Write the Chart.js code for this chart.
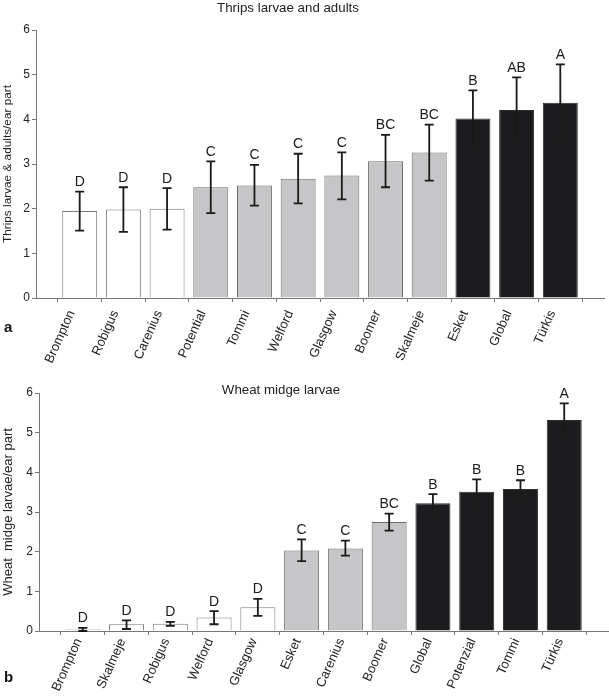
<!DOCTYPE html>
<html>
<head>
<meta charset="utf-8">
<script src="https://cdn.jsdelivr.net/npm/chart.js@4.4.1/dist/chart.umd.min.js"></script>
<style>
  body { margin: 0; background: #fff; font-family: "Liberation Sans", Arial, sans-serif; }
  #page { position: relative; width: 609px; height: 698px; overflow: hidden; }
  .chart-box { position: absolute; left: 0; width: 609px; }
  .title { position: absolute; font-size: 13.3px; color: #222; transform: translate(-50%, -50%); white-space: nowrap; }
  .panel { position: absolute; font-size: 15px; font-weight: bold; color: #111; }
</style>
</head>
<body>
<div id="page">
  <div class="chart-box" style="top:0;height:370px"><canvas id="thrips-chart"></canvas></div>
  <div class="chart-box" style="top:360px;height:338px"><canvas id="midge-chart"></canvas></div>
  <div class="title" style="left:288px;top:7px">Thrips larvae and adults</div>
  <div class="title" style="left:281px;top:389px">Wheat midge larvae</div>
  <div class="panel" style="left:4px;top:318px">a</div>
  <div class="panel" style="left:4px;top:668px">b</div>
</div>
<script>
// a: thrips
const thripsVarieties = ['Brompton', 'Robigus', 'Carenius', 'Potential', 'Tommi', 'Welford', 'Glasgow', 'Boomer', 'Skalmeje', 'Esket', 'Global', 'Türkis'];
const thripsMeans = [1.95, 1.98, 2.0, 2.48, 2.52, 2.67, 2.74, 3.06, 3.26, 4.02, 4.21, 4.37];
const thripsUpper = [2.38, 2.48, 2.46, 3.06, 2.98, 3.23, 3.26, 3.65, 3.88, 4.65, 4.94, 5.23];
const thripsLower = [1.51, 1.48, 1.53, 1.90, 2.07, 2.12, 2.21, 2.48, 2.63, 3.39, 3.48, 3.51];
const thripsLetters = ['D', 'D', 'D', 'C', 'C', 'C', 'C', 'BC', 'BC', 'B', 'AB', 'A'];
const thripsGroups = [0, 0, 0, 1, 1, 1, 1, 1, 1, 2, 2, 2];

// b: wheat midge
const midgeVarieties = ['Brompton', 'Skalmeje', 'Robigus', 'Welford', 'Glasgow', 'Esket', 'Carenius', 'Boomer', 'Global', 'Potenzial', 'Tommi', 'Türkis'];
const midgeMeans = [0.04, 0.17, 0.18, 0.34, 0.60, 2.03, 2.08, 2.75, 3.22, 3.51, 3.58, 5.32];
const midgeUpper = [0.08, 0.27, 0.23, 0.50, 0.81, 2.31, 2.28, 2.96, 3.45, 3.82, 3.80, 5.74];
const midgeLower = [0.0, 0.05, 0.13, 0.17, 0.38, 1.76, 1.90, 2.53, 2.99, 3.20, 3.36, 4.90];
const midgeLetters = ['D', 'D', 'D', 'D', 'D', 'C', 'C', 'BC', 'B', 'B', 'B', 'A'];
const midgeGroups = [0, 0, 0, 0, 0, 1, 1, 1, 2, 2, 2, 2];

const yTicks = [0, 1, 2, 3, 4, 5, 6];

const fillColors = ['#ffffff', '#c6c6c8', '#1c1b1e'];
const edgeColors = ['#7a7a7a', '#6e6e6e', '#2e2e30'];
const fontFamily = '"Liberation Sans", Arial, sans-serif';

const errorBars = {
    id: 'errorBars',
    afterDatasetsDraw(chart, args, opts) {
        const { ctx } = chart;
        const x = chart.scales.x;
        const y = chart.scales.y;
        ctx.save();
        ctx.strokeStyle = '#1a1a1a';
        ctx.fillStyle = '#1a1a1a';
        ctx.lineWidth = 1.8;
        ctx.font = '14px ' + fontFamily;
        ctx.textAlign = 'center';
        ctx.textBaseline = 'alphabetic';
        opts.upper.forEach((hi, i) => {
            const px = x.getPixelForValue(i);
            const top = y.getPixelForValue(hi);
            const bottom = y.getPixelForValue(opts.lower[i]);
            ctx.beginPath();
            ctx.moveTo(px, top);
            ctx.lineTo(px, bottom);
            ctx.moveTo(px - 4.5, top);
            ctx.lineTo(px + 4.5, top);
            ctx.moveTo(px - 4.5, bottom);
            ctx.lineTo(px + 4.5, bottom);
            ctx.stroke();
            ctx.fillText(opts.letters[i], px, top - 5.5);
        });
        ctx.restore();
    }
};

const makeChart = (canvasId, cfg) => {
    const el = document.getElementById(canvasId).getContext('2d');
    return new Chart(el, {
        type: 'bar',
        data: {
            datasets: [{
                data: cfg.means.map((v, i) => ({ x: i, y: v })),
                backgroundColor: cfg.groups.map(g => fillColors[g]),
                borderColor: cfg.groups.map(g => edgeColors[g]),
                borderWidth: 1,
                barPercentage: 0.8,
                categoryPercentage: 1
            }]
        },
        plugins: [errorBars],
        options: {
            responsive: true,
            maintainAspectRatio: false,
            animation: false,
            events: [],
            layout: { padding: { top: cfg.padTop, right: cfg.padRight, left: 0, bottom: 0 } },
            plugins: {
                legend: { display: false },
                tooltip: { enabled: false },
                errorBars: { upper: cfg.upper, lower: cfg.lower, letters: cfg.letters }
            },
            scales: {
                x: {
                    type: 'linear',
                    offset: false,
                    min: -1,
                    max: cfg.names.length,
                    afterBuildTicks: s => {
                        s.ticks = cfg.names.map((n, i) => ({ value: i }));
                    },
                    afterFit: s => {
                        s.height = cfg.xHeight;
                        s.paddingLeft = 0;
                        s.paddingRight = 0;
                    },
                    ticks: {
                        autoSkip: false,
                        minRotation: 66,
                        maxRotation: 66,
                        padding: cfg.labelPad,
                        labelOffset: cfg.labelShift,
                        color: '#222',
                        font: { family: fontFamily, size: 13 },
                        callback: v => cfg.names[v]
                    },
                    grid: { drawOnChartArea: false, tickLength: 4, color: '#777' },
                    border: { color: '#777', width: 1 }
                },
                y: {
                    min: 0,
                    max: 6,
                    afterBuildTicks: s => {
                        s.ticks = yTicks.map(v => ({ value: v }));
                    },
                    afterFit: s => {
                        s.width = cfg.yWidth;
                    },
                    ticks: {
                        padding: 2,
                        color: '#222',
                        font: { family: fontFamily, size: 12 }
                    },
                    grid: { drawOnChartArea: false, tickLength: 4, color: '#777' },
                    border: { color: '#777', width: 1 },
                    title: {
                        display: true,
                        text: cfg.yTitle,
                        color: '#222',
                        padding: { top: 1, bottom: 0 },
                        font: { family: fontFamily, size: cfg.yTitleSize }
                    }
                }
            }
        }
    });
};

const thripsChart = makeChart('thrips-chart', {
    names: thripsVarieties, means: thripsMeans, upper: thripsUpper, lower: thripsLower,
    letters: thripsLetters, groups: thripsGroups,
    yTitle: 'Thrips larvae & adults/ear part', yTitleSize: 11.8,
    padTop: 30, padRight: 5, xHeight: 72, yWidth: 36,
    labelPad: 6, labelShift: -8
});

const midgeChart = makeChart('midge-chart', {
    names: midgeVarieties, means: midgeMeans, upper: midgeUpper, lower: midgeLower,
    letters: midgeLetters, groups: midgeGroups,
    yTitle: 'Wheat  midge larvae/ear part', yTitleSize: 13,
    padTop: 33, padRight: 1, xHeight: 67, yWidth: 39,
    labelPad: 1, labelShift: -4
});
</script>
</body>
</html>
